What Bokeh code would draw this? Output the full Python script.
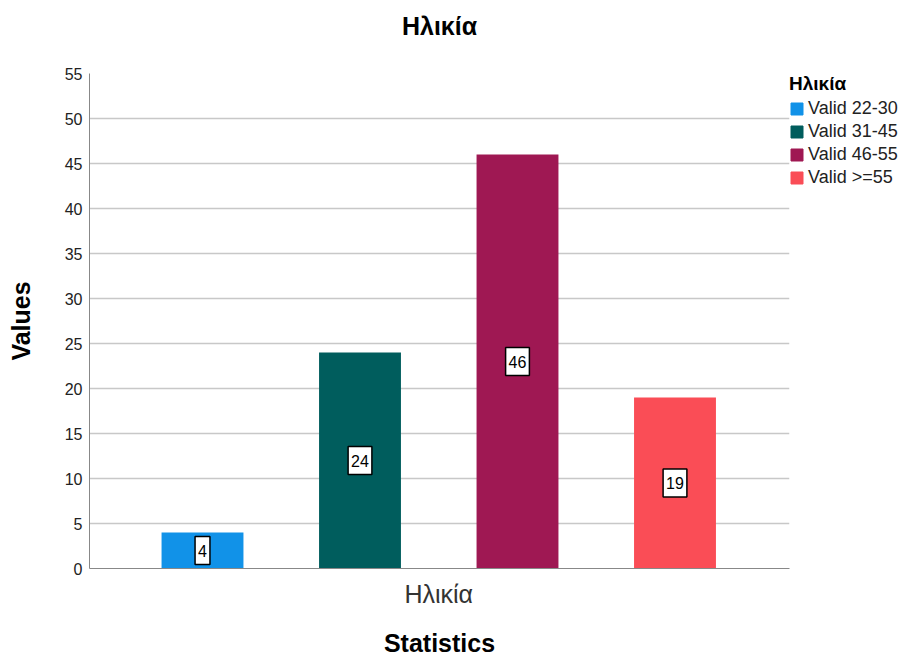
from bokeh.plotting import figure
from bokeh.models import (ColumnDataSource, Legend, LegendItem, FixedTicker, Range1d, Title)
from bokeh.core.properties import value
from bokeh.embed import file_html
from bokeh.resources import INLINE

categories = ["Valid 22-30", "Valid 31-45", "Valid 46-55", "Valid >=55"]
values = [4, 24, 46, 19]
colors = ["#1192e8", "#005d5d", "#9f1853", "#fa4d56"]
y_ticks = [0, 5, 10, 15, 20, 25, 30, 35, 40, 45, 50, 55]
group_label = "Ηλικία"

xs = list(range(1, len(values) + 1))
src = ColumnDataSource(dict(
    x=xs, top=values, mid=[v / 2 for v in values], color=colors,
    label=[str(v) for v in values], name=categories))

FONT = "Liberation Sans"

p = figure(width=905, height=657, frame_width=700, frame_height=495,
           output_backend="svg", toolbar_location=None,
           x_range=Range1d(0.2825, 4.727), y_range=Range1d(0, 55),
           min_border_left=89, min_border_right=0, min_border_top=73, min_border_bottom=0,
           title=group_label)
p.title.text_font = FONT
p.title.text_font_size = "25px"
p.title.text_font_style = "bold"
p.title.text_color = "black"
p.title.align = "center"
p.title.offset = 13
p.title.standoff = 10
p.outline_line_color = None

spacer = Title(text=" ", text_font=FONT, text_font_size="20px", standoff=5)
p.add_layout(spacer, "above")

r = p.vbar(x="x", top="top", width=0.52, color="color", source=src, line_color=None)

p.text(x="x", y="mid", text="label", source=src, text_align="center",
       text_baseline="middle", text_font=value(FONT), text_font_size="16px",
       text_color="black", background_fill_color="white",
       border_line_color="black", border_line_width=1.5, padding=(3, 8))

p.xgrid.visible = False
p.ygrid.grid_line_color = "#c8c8c8"
p.ygrid.grid_line_width = 1.5
p.yaxis.ticker = FixedTicker(ticks=y_ticks)
p.yaxis.major_tick_line_color = None
p.yaxis.minor_tick_line_color = None
p.yaxis.axis_line_color = "#888888"
p.yaxis.major_label_text_font = FONT
p.yaxis.major_label_text_font_size = "16px"
p.yaxis.major_label_text_color = "#222222"
p.yaxis.major_label_standoff = 1
p.yaxis.axis_label = "Values"
p.yaxis.axis_label_text_font = FONT
p.yaxis.axis_label_text_font_size = "25px"
p.yaxis.axis_label_text_font_style = "bold"
p.yaxis.axis_label_text_color = "black"
p.yaxis.axis_label_standoff = 27

center = sum(xs) / len(xs)
p.xaxis.ticker = FixedTicker(ticks=[center])
p.xaxis.major_label_overrides = {center: group_label}
p.xaxis.major_tick_line_color = None
p.xaxis.minor_tick_line_color = None
p.xaxis.axis_line_color = "#888888"
p.xaxis.major_label_text_font = FONT
p.xaxis.major_label_text_font_size = "25px"
p.xaxis.major_label_text_color = "#333333"
p.xaxis.major_label_standoff = 5
p.xaxis.axis_label = "Statistics"
p.xaxis.axis_label_text_font = FONT
p.xaxis.axis_label_text_font_size = "25px"
p.xaxis.axis_label_text_font_style = "bold"
p.xaxis.axis_label_text_color = "black"
p.xaxis.axis_label_standoff = 18

items = []
for i, c in enumerate(categories):
    rr = p.vbar(x=[xs[i]], top=[0], width=0, color=colors[i], visible=False)
    items.append(LegendItem(label=c, renderers=[rr]))
legend = Legend(items=items, title=group_label, location="top_left",
                border_line_color=None, background_fill_alpha=0,
                label_text_font=FONT, label_text_font_size="18px",
                label_text_color="#222222",
                title_text_font=FONT, title_text_font_size="19px", title_text_font_style="bold",
                title_text_color="black",
                glyph_width=15, glyph_height=15, spacing=2, padding=2, margin=0,
                label_standoff=4, title_standoff=3, label_height=18)
p.add_layout(legend, "right")

open("out.html", "w").write(file_html(p, INLINE))
